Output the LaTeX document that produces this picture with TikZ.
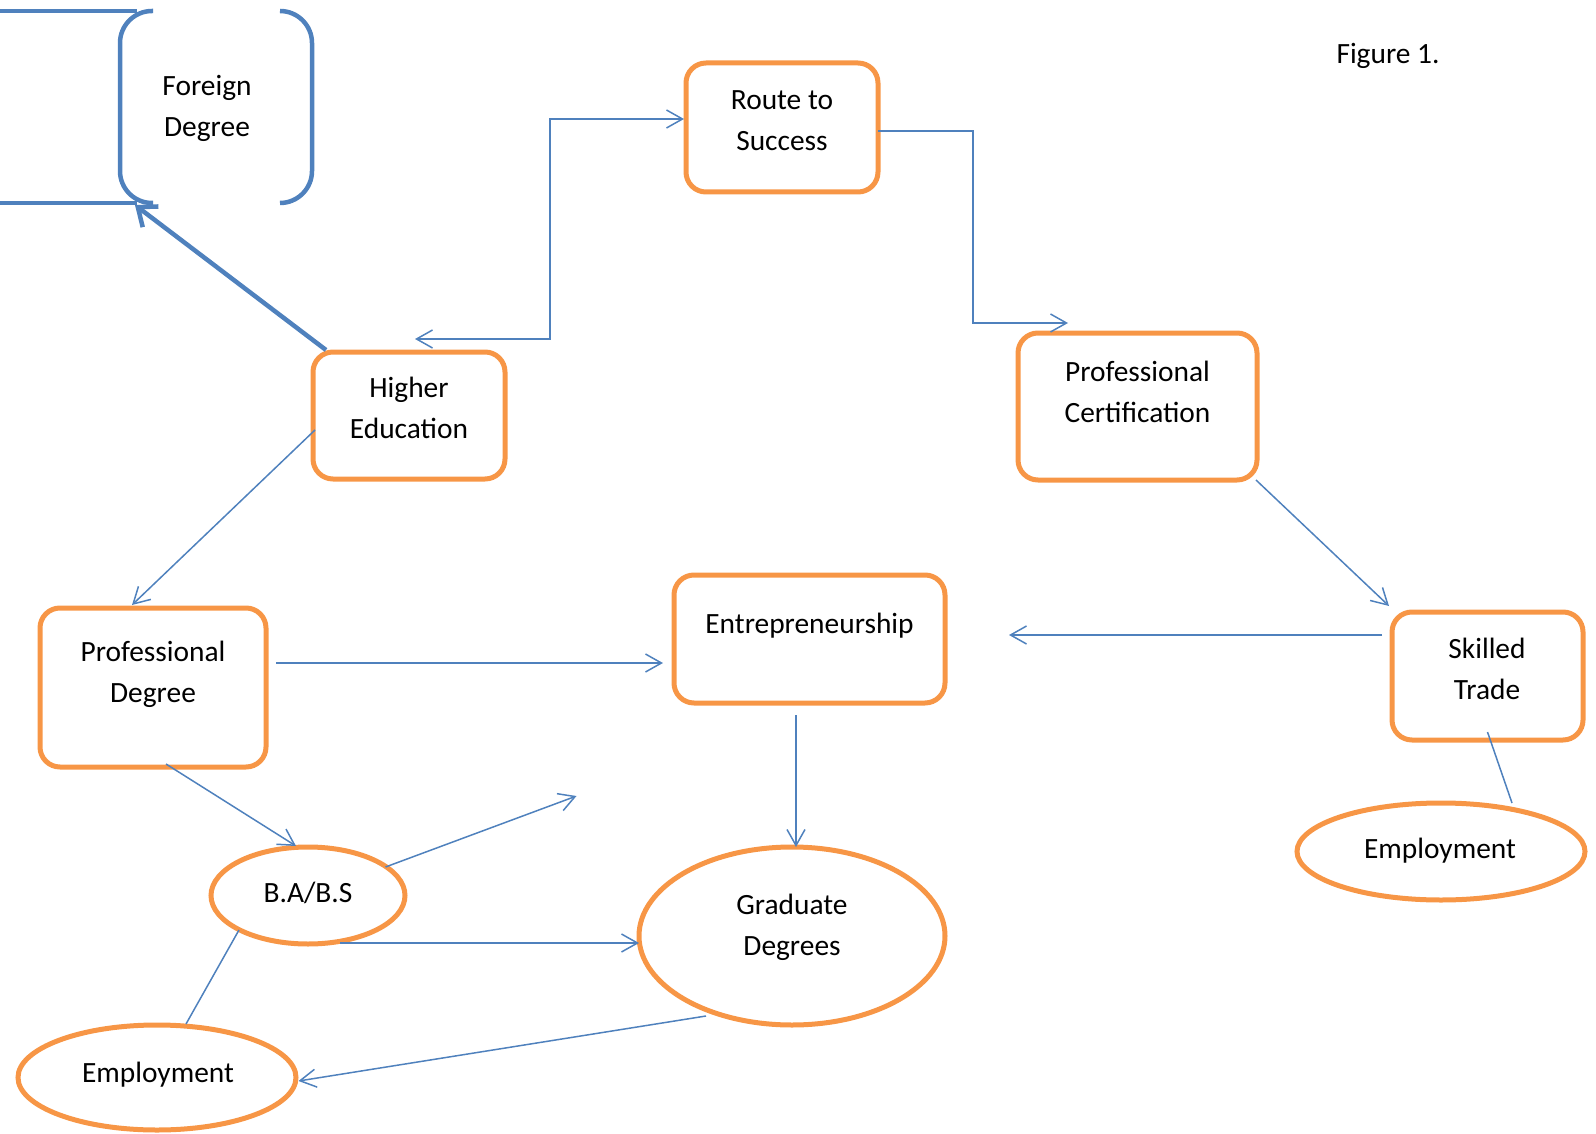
\documentclass[tikz,border=0pt]{standalone}
\usepackage{fontspec}
\setmainfont{Carlito}
\usetikzlibrary{arrows.meta,shapes.geometric}
\definecolor{cblue}{HTML}{4F81BD}
\definecolor{corange}{HTML}{F79646}
\begin{document}
\begin{tikzpicture}[x=1pt,y=-1pt,
  obox/.style={draw=corange, line width=5pt, rounded corners=20pt, inner sep=0pt, outer sep=0pt},
  oell/.style={ellipse, draw=corange, line width=5pt, inner sep=0pt, outer sep=0pt},
  lbl/.style={font=\fontsize{29.4pt}{41pt}\selectfont, align=center, anchor=base, inner sep=0pt},
  conn/.style={draw=cblue, line width=1.5pt},
  arr/.style={conn, -{Straight Barb[length=16pt,width=18pt]}},
  darr/.style={conn, {Straight Barb[length=16pt,width=18pt]}-{Straight Barb[length=16pt,width=18pt]}},
  fdline/.style={draw=cblue, line width=4.5pt},
  fdarr/.style={draw=cblue, line width=4.5pt, -{Straight Barb[length=16pt,width=26pt]}}
]
\useasboundingbox (0,0) rectangle (1596,1134);

% Foreign Degree (drawn directly)
\node[minimum width=192pt, minimum height=192pt, inner sep=0pt, outer sep=0pt] (fd) at (216,107) {};
\draw[fdline] (0,11) -- (137,11);
\draw[fdline] (0,203) -- (137,203);
\draw[fdline, rounded corners=32pt] (153,11) -- (120,11) -- (120,203) -- (153,203);
\draw[fdline, rounded corners=32pt] (280,11) -- (312,11) -- (312,203) -- (280,203);
\node[lbl] (tfd) at (207,137) {Foreign\\Degree};

% boxes
\node[obox, minimum width=192pt, minimum height=129pt] (rts) at (782,127.5) {};
\node[obox, minimum width=192pt, minimum height=127pt] (he) at (409,415.5) {};
\node[obox, minimum width=239pt, minimum height=147pt] (pc) at (1137.5,406.5) {};
\node[obox, minimum width=226pt, minimum height=159pt] (pd) at (153,687.5) {};
\node[obox, minimum width=271pt, minimum height=128pt] (ent) at (809.5,639) {};
\node[obox, minimum width=191pt, minimum height=128pt] (st) at (1487.5,676) {};

% ellipses
\node[oell, minimum width=288pt, minimum height=97pt] (emp2) at (1441,851.5) {};
\node[oell, minimum width=306pt, minimum height=178pt] (gd) at (792,936) {};
\node[oell, minimum width=194pt, minimum height=97pt] (ba) at (308,895.5) {};
\node[oell, minimum width=278pt, minimum height=105pt] (emp1) at (157,1077.5) {};

% labels (anchor base = baseline of last line)
\node[lbl] (trts) at (782,151) {Route to\\Success};
\node[lbl] (the) at (409,438) {Higher\\Education};
\node[lbl] (tpc) at (1137.5,422) {Professional\\Certification};
\node[lbl] (tpd) at (153,702) {Professional\\Degree};
\node[lbl] (tent) at (809.5,633) {Entrepreneurship};
\node[lbl] (tst) at (1487,699) {Skilled\\Trade};
\node[lbl] (temp2) at (1440,858) {Employment};
\node[lbl] (tgd) at (792,955) {Graduate\\Degrees};
\node[lbl] (tba) at (308,902) {B.A/B.S};
\node[lbl] (temp1) at (158,1082) {Employment};
\node[lbl] (fig) at (1388,64) {Figure 1.};

\coordinate (free) at (576.5,796);

% connectors
\draw[fdarr] ([xshift=13pt,yshift=2pt]he.north west) -- ([xshift=15pt,yshift=-2pt]fd.south west);
\draw[darr] ([xshift=6pt,yshift=13pt]he.north) -- ++(135,0) |- ([xshift=-2pt,yshift=8.5pt]rts.west);
\draw[arr] ([yshift=-3.5pt]rts.east) -- ++(95,0) |- ([xshift=-69.5pt,yshift=10pt]pc.north);
\draw[arr] ([xshift=-1pt]pc.south east) -- ([xshift=-3pt,yshift=6pt]st.north west);
\draw[arr] ([xshift=-10pt,yshift=41pt]st.west) -- ([xshift=64pt,yshift=4pt]ent.east);
\draw[conn] ([yshift=8pt]st.south) -- ([xshift=71pt]emp2.north);
\draw[arr] ([xshift=2pt,yshift=-14.5pt]he.west) -- ([xshift=-21pt,yshift=3pt]pd.north);
\draw[arr] ([xshift=10pt,yshift=24.5pt]pd.east) -- ([xshift=-11pt,yshift=-24pt]ent.west);
\draw[arr] ([xshift=13pt,yshift=3pt]pd.south) -- ([xshift=-12pt,yshift=1pt]ba.north);
\draw[arr] ([xshift=-13.5pt,yshift=-12pt]ent.south) -- ([xshift=4pt]gd.north);
\draw[arr] ([xshift=77.5pt,yshift=28.5pt]ba.center) -- (free);
\draw[arr] ([xshift=32pt,yshift=1pt]ba.south) -- ([yshift=-7pt]gd.west);
\draw[conn] ([xshift=-69pt,yshift=-34.5pt]ba.center) -- ([xshift=29pt,yshift=1pt]emp1.north);
\draw[arr] ([xshift=-86pt,yshift=-80pt]gd.center) -- ([xshift=2.5pt,yshift=-3.5pt]emp1.east);
\end{tikzpicture}
\end{document}
